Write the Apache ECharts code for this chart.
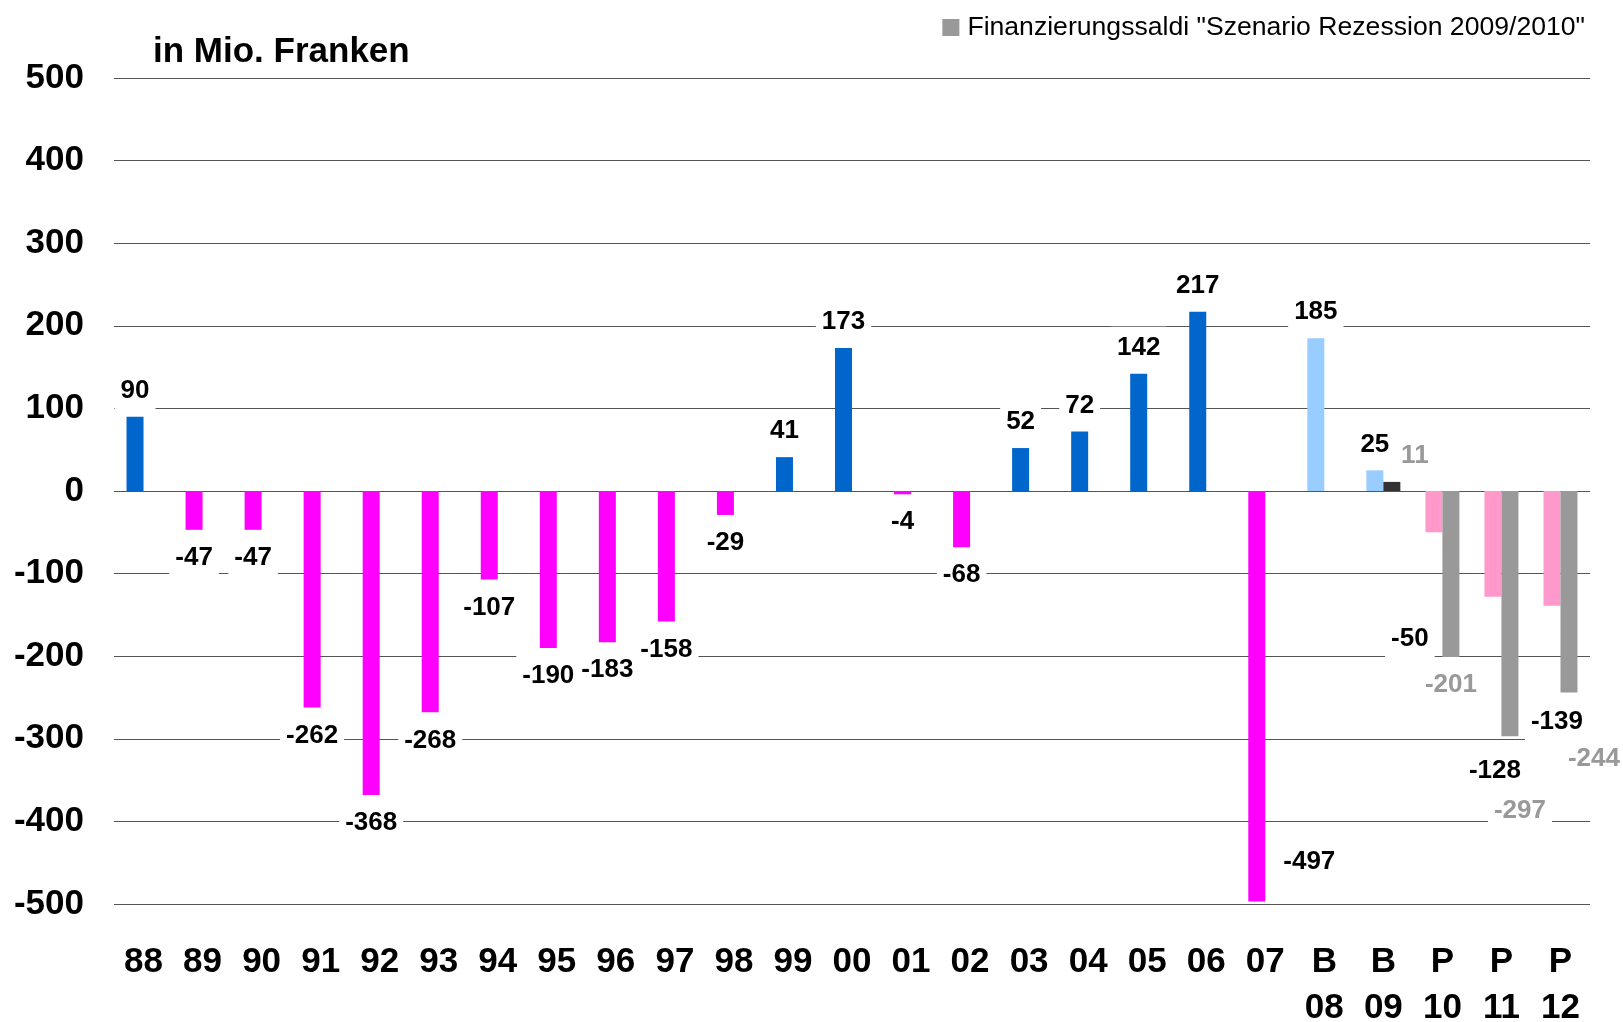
<!DOCTYPE html>
<html>
<head>
<meta charset="utf-8">
<script src="https://cdn.jsdelivr.net/npm/echarts@6/dist/echarts.min.js"></script>
<style>
html,body{margin:0;padding:0;background:#fff;}
#chart{width:1623px;height:1022px;}
</style>
</head>
<body>
<div id="chart"></div>
<script>
// ---- data ----
const categories = ['88','89','90','91','92','93','94','95','96','97','98','99','00','01','02','03','04','05','06','07','B\n08','B\n09','P\n10','P\n11','P\n12'];
const saldi = [90,-47,-47,-262,-368,-268,-107,-190,-183,-158,-29,41,173,-4,-68,52,72,142,217,-497,185,25,-50,-128,-139];
const szenario = [null,null,null,null,null,null,null,null,null,null,null,null,null,null,null,null,null,null,null,null,null,11,-201,-297,-244];
const yMin = -500, yMax = 500, yStep = 100;
const legendName = 'Finanzierungssaldi "Szenario Rezession 2009/2010"';

// ---- styling ----
const FONT = "'Liberation Sans', Arial, Helvetica, sans-serif";
const labelBase = {
  show: true, fontFamily: FONT, fontSize: 26, fontWeight: 'bold', color: '#000',
  lineHeight: 28, backgroundColor: '#fff', padding: [7, 6, 5, 6], distance: 7
};
function mainColor(i, v) {
  if (i < 20) return v >= 0 ? '#0066CC' : '#FF00FF';
  if (i < 22) return '#99CCFF';
  return '#FF99CC';
}
const mainLabelTweaks = {
  19: {position: 'right', distance: 12, offset: [0, 166]},
  22: {offset: [-24, 79]},
  23: {offset: [2, 146]},
  24: {offset: [5, 88]}
};
const grayLabelTweaks = {
  21: {offset: [23, 0]},
  23: {offset: [10, 47]},
  24: {offset: [25, 38]}
};

const mainData = saldi.map((v, i) => {
  const lab = Object.assign({}, labelBase, {position: v >= 0 ? 'top' : 'bottom'}, mainLabelTweaks[i] || {});
  return {value: v, itemStyle: {color: mainColor(i, v)}, label: lab};
});
const grayData = szenario.map((v, i) => {
  if (v === null) return '-';
  const lab = Object.assign({}, labelBase, {color: '#999999', position: v >= 0 ? 'top' : 'bottom'}, grayLabelTweaks[i] || {});
  const item = {value: v, label: lab};
  if (i === 21) item.itemStyle = {color: '#333333'};
  return item;
});

const chart = echarts.init(document.getElementById('chart'), null, {renderer: 'canvas'});
chart.setOption({
  animation: false,
  backgroundColor: '#fff',
  title: {
    text: 'in Mio. Franken', left: 153, top: 35, padding: 0,
    textStyle: {fontFamily: FONT, fontSize: 35, fontWeight: 'bold', color: '#000'}
  },
  legend: {
    data: [legendName], right: 38, top: 14, padding: 0,
    icon: 'rect', itemWidth: 17, itemHeight: 17, itemGap: 5,
    textStyle: {fontFamily: FONT, fontSize: 26.6, color: '#000', padding: [0,0,0,3]}
  },
  grid: {left: 114, right: 33, top: 78, bottom: 118, containLabel: false, outerBoundsMode: 'none'},
  xAxis: {
    type: 'category', data: categories,
    axisLine: {show: false}, axisTick: {show: false},
    axisLabel: {fontFamily: FONT, fontSize: 35, fontWeight: 'bold', color: '#000', margin: 35, lineHeight: 46, interval: 0}
  },
  yAxis: {
    type: 'value', min: yMin, max: yMax, interval: yStep,
    axisLine: {show: false}, axisTick: {show: false},
    axisLabel: {fontFamily: FONT, fontSize: 35, fontWeight: 'bold', color: '#000', margin: 30, padding: [5, 0, 0, 0]},
    splitLine: {show: true, lineStyle: {color: '#555', width: 1.2}}
  },
  series: [
    {name: 'Finanzierungssaldi', type: 'bar', data: mainData, barWidth: 17, barGap: '0%', z: 2},
    {name: legendName, type: 'bar', data: grayData, barWidth: 17, barGap: '0%', itemStyle: {color: '#999999'}, z: 2}
  ]
});
</script>
</body>
</html>
